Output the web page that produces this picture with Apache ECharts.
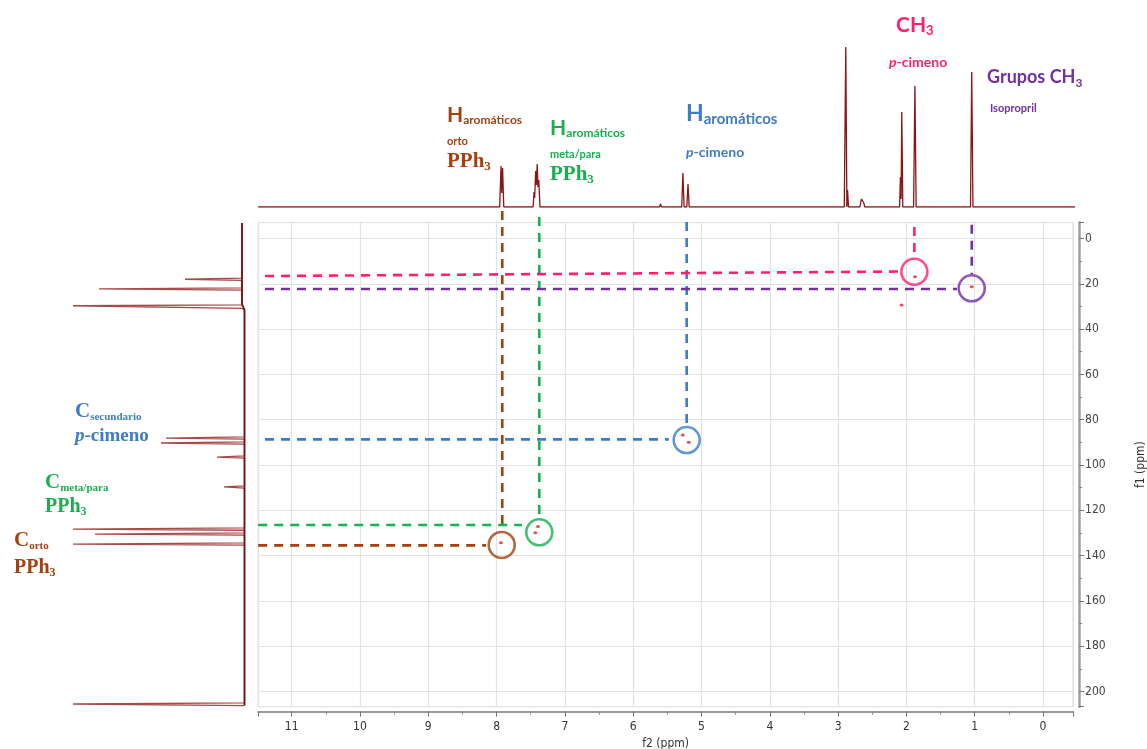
<!DOCTYPE html>
<html><head><meta charset="utf-8">
<script src="https://cdn.jsdelivr.net/npm/echarts@6/dist/echarts.min.js"></script>
<style>html,body{margin:0;padding:0;background:#fff}#c{width:1147px;height:749px}</style>
</head><body><div id="c"></div>
<script>
// ---------- DATA ----------
// 1H projection (top): [f2 ppm, intensity]
const protonSpectrum = [[11.49,0],[7.955,0],[7.935,41],[7.925,14],[7.912,39],[7.895,0],
  [7.465,0],[7.452,15],[7.443,9],[7.428,36],[7.418,22],[7.405,43],[7.395,20],[7.382,27],[7.365,0],
  [5.615,0],[5.6,3],[5.585,0],
  [5.29,0],[5.272,34],[5.255,0],[5.215,0],[5.198,23],[5.18,0],
  [2.91,0],[2.888,160],[2.872,0],[2.862,17],[2.848,0],
  [2.68,0],[2.668,5],[2.657,8],[2.646,9],[2.635,7],[2.624,4],[2.61,0],
  [2.1,0],[2.088,30],[2.078,8],[2.068,95],[2.053,0],
  [1.895,0],[1.876,121],[1.858,0],
  [1.262,0],[1.25,2],[1.238,0],
  [1.062,0],[1.044,135],[1.026,0],[-0.48,0]];
// 13C projection (left): [intensity, f1 ppm]
const carbonSpectrum = [[0,-6.8],[0,17.5],[57,18.0],[0,18.5],[0,21.8],[143,22.3],[0,22.8],
  [0,29.3],[169,29.7],[169,30.5],[0,30.9],[-2.5,31.5],
  [-2.5,87.6],[76,88.1],[-2.5,88.6],[-2.5,89.8],[81,90.3],[-2.5,90.8],
  [-2.5,96.0],[25,96.5],[-2.5,97.0],[-2.5,109.2],[18,109.7],[-2.5,110.2],
  [-2.5,127.8],[169,128.3],[-2.5,128.8],[-2.5,130.0],[147,130.5],[-2.5,131.0],
  [-2.5,134.4],[169,134.9],[-2.5,135.4],[-2.5,205.0],[169,205.5],[-2.5,206.2]];
const carbonBaseline = [[0,-6.8],[0,29.0],[-2.5,31.5],[-2.5,206.2]];
// HSQC cross peaks [f2, f1]
const crossPeaks = [[1.874,16.9],[1.044,21.3],[2.07,29.4],[5.275,86.8],[5.187,90.0],
  [7.394,127.2],[7.433,129.9],[7.936,134.3]];
// assignments
const assignNames = ['orto','metaPara','pCimenoArom','ch3pCimeno','isopropil'];
const circleCenters = [[7.925,135.3],[7.375,129.7],[5.217,89.0],[1.884,14.7],[1.044,22.0]];
const hGuides = [
  [[11.49,135.5],[8.155,135.5]],
  [[11.49,126.5],[7.63,126.5]],
  [[11.39,88.7],[5.48,88.7]],
  [[11.39,16.6],[2.09,14.6]],
  [[11.39,22.3],[1.26,22.3]]];
const vGuides = [
  [[7.917,-12.1],[7.917,128.7]],
  [[7.375,-9.5],[7.375,123.4]],
  [[5.217,-7.3],[5.217,82.8]],
  [[1.884,-5.1],[1.884,8.6]],
  [[1.044,-6.0],[1.044,15.7]]];

// ---------- STYLE ----------
const colors = {orto:'#a3410f', metaPara:'#17b04f', pCimenoArom:'#3d7cc6', ch3pCimeno:'#ff1f6f', isopropil:'#7230a3'};
const axFont = '"DejaVu Sans Condensed","DejaVu Sans",sans-serif';
const sans = 'Lato, "Open Sans", sans-serif';
const serif = '"Liberation Serif", "DejaVu Serif", serif';

const series = [
  {type:'line', xAxisIndex:1, yAxisIndex:1, data:protonSpectrum, symbol:'none', silent:true,
   lineStyle:{color:'#8a1515', width:1.3}},
  {type:'line', xAxisIndex:2, yAxisIndex:2, data:carbonSpectrum, symbol:'none', silent:true, clip:false,
   lineStyle:{color:'#a84a4a', width:1.3}},
  {type:'line', xAxisIndex:2, yAxisIndex:2, data:carbonBaseline, symbol:'none', silent:true, clip:false,
   lineStyle:{color:'#7a0f0f', width:1.8}}
];
assignNames.forEach((k,i)=>{
  const c = colors[k];
  series.push({type:'line', xAxisIndex:0, yAxisIndex:0, data:hGuides[i], symbol:'none', clip:false, silent:true, z:3,
    lineStyle:{color:c, width:2.6, type:[9,7]}});
  series.push({type:'line', xAxisIndex:0, yAxisIndex:0, data:vGuides[i], symbol:'none', clip:false, silent:true, z:3,
    lineStyle:{color:c, width:2.6, type:[9,7]}});
  series.push({type:'scatter', xAxisIndex:0, yAxisIndex:0, data:[circleCenters[i]], symbol:'circle', symbolSize:26, silent:true, z:4,
    itemStyle:{color:'rgba(255,255,255,0)', borderColor:c, borderWidth:2.6}});
});
series.push({type:'scatter', xAxisIndex:0, yAxisIndex:0, data:crossPeaks, symbol:'circle', symbolSize:[4,3], silent:true, z:5,
  itemStyle:{color:'#e4262c'}});

const mctx = document.createElement('canvas').getContext('2d');
function tw(text, font){ mctx.font = font; return mctx.measureText(text).width; }
function txt(x, y, text, fill, font, rich){
  const st = {text:text, fill:fill, font:font, verticalAlign:'middle', textVerticalAlign:'middle', align:'left'};
  if (rich) st.rich = rich;
  return {type:'text', x:x, y:y, style:st, silent:true, z:10};
}
// main text followed by a lowered subscript
function withSub(x, y, main, sub, fill, mainFont, subFont, dy, gap){
  const w = tw(main, mainFont);
  return [txt(x, y, main, fill, mainFont), txt(x + w + (gap||0), y + dy, sub, fill, subFont)];
}
function pRich(fill, size, family){
  return {i:{fontStyle:'italic', fontWeight:'bold', fontSize:size, fontFamily:family, fill:fill},
          n:{fontWeight:'bold', fontSize:size, fontFamily:family, fill:fill}};
}
const cB = colors.orto, cG = colors.metaPara, cBl = colors.pCimenoArom, cP = colors.ch3pCimeno, cV = colors.isopropil;
const graphics = [].concat(
  // top labels
  withSub(447,115,'H','aromáticos',cB,'bold 21px '+sans,'bold 12px '+sans,5,0),
  [txt(447,141,'orto',cB,'bold 11px '+sans)],
  withSub(447,162,'PPh','3',cB,'bold 21px '+serif,'bold 13px '+serif,5,0),
  withSub(550,128,'H','aromáticos',cG,'bold 21px '+sans,'bold 12px '+sans,5,0),
  [txt(550,154,'meta/para',cG,'bold 11px '+sans)],
  withSub(550,175,'PPh','3',cG,'bold 21px '+serif,'bold 13px '+serif,5,0),
  withSub(686,114,'H','aromáticos',cBl,'bold 23px '+sans,'bold 15px '+sans,5,0),
  [txt(686,152,'{i|p}{n|-cimeno}',cBl,'bold 14px '+sans, pRich(cBl,14,sans))],
  withSub(896,25,'CH','3',cP,'bold 21px '+sans,'bold 13px '+sans,6,0),
  [txt(889,62,'{i|p}{n|-cimeno}',cP,'bold 14px '+sans, pRich(cP,14,sans))],
  withSub(987,77,'Grupos CH','3',cV,'bold 18px '+sans,'bold 12px '+sans,6,0),
  [txt(990,108,'Isopropril',cV,'bold 11px '+sans)],
  // left labels
  withSub(75,412,'C','secundario',cBl,'bold 21px '+serif,'bold 11px '+serif,5,0),
  [txt(75,436,'{i|p}{n|-cimeno}',cBl,'bold 19px '+serif, pRich(cBl,19,serif))],
  withSub(45,483,'C','meta/para',cG,'bold 21px '+serif,'bold 11px '+serif,5,0),
  withSub(45,507,'PPh','3',cG,'bold 20px '+serif,'bold 12px '+serif,5,0),
  withSub(14,541,'C','orto',cB,'bold 21px '+serif,'bold 11px '+serif,5,0),
  withSub(14,568,'PPh','3',cB,'bold 20px '+serif,'bold 12px '+serif,5,0)
);

const option = {
  animation:false,
  backgroundColor:'#fff',
  grid:[
    {left:258.2, top:222.6, width:814.9, height:484.1, show:true, borderColor:'#d4d4d4', borderWidth:1,
     containLabel:false, outerBoundsMode:'none'},
    {left:258.2, top:47, width:814.9, height:160, outerBoundsMode:'none'},
    {left:60, top:222.6, width:187, height:484.1, outerBoundsMode:'none'}
  ],
  xAxis:[
    {gridIndex:0, type:'value', min:-0.44, max:11.49, inverse:true, splitNumber:12, minInterval:1, maxInterval:1, offset:5,
     axisLine:{show:true, onZero:false, lineStyle:{color:'#9a9a9a', width:2}},
     axisTick:{show:true, length:5, lineStyle:{color:'#777'}},
     minorTick:{show:true, splitNumber:2, length:3, lineStyle:{color:'#888'}},
     axisLabel:{showMinLabel:false, showMaxLabel:false, color:'#333', fontSize:12, fontFamily:axFont, margin:9},
     splitLine:{show:true, lineStyle:{color:'#e2e2e2', width:1.2}},
     name:'f2 (ppm)', nameLocation:'middle', nameGap:26,
     nameTextStyle:{color:'#333', fontSize:12, fontFamily:axFont}},
    {gridIndex:1, type:'value', min:-0.44, max:11.49, inverse:true, show:false},
    {gridIndex:2, type:'value', min:-5, max:182, inverse:true, show:false}
  ],
  yAxis:[
    {gridIndex:0, type:'value', min:-7, max:206.7, inverse:true, position:'right', offset:6,
     splitNumber:11, minInterval:20, maxInterval:20,
     axisLine:{show:true, onZero:false, lineStyle:{color:'#a0a0a0', width:2.5}},
     axisTick:{show:true, length:5, lineStyle:{color:'#777'}},
     minorTick:{show:true, splitNumber:2, length:3, lineStyle:{color:'#888'}},
     axisLabel:{showMinLabel:false, showMaxLabel:false, color:'#444', fontSize:12, fontFamily:axFont, margin:6},
     splitLine:{show:true, lineStyle:{color:'#e2e2e2', width:1.2}},
     name:'f1 (ppm)', nameLocation:'middle', nameGap:56, nameRotate:90,
     nameTextStyle:{color:'#333', fontSize:12, fontFamily:axFont}},
    {gridIndex:1, type:'value', min:0, max:160, show:false},
    {gridIndex:2, type:'value', min:-7, max:206.7, inverse:true, show:false}
  ],
  series:series,
  graphic:graphics
};
const chart = echarts.init(document.getElementById('c'), null, {renderer:'canvas'});
chart.setOption(option);
</script></body></html>
